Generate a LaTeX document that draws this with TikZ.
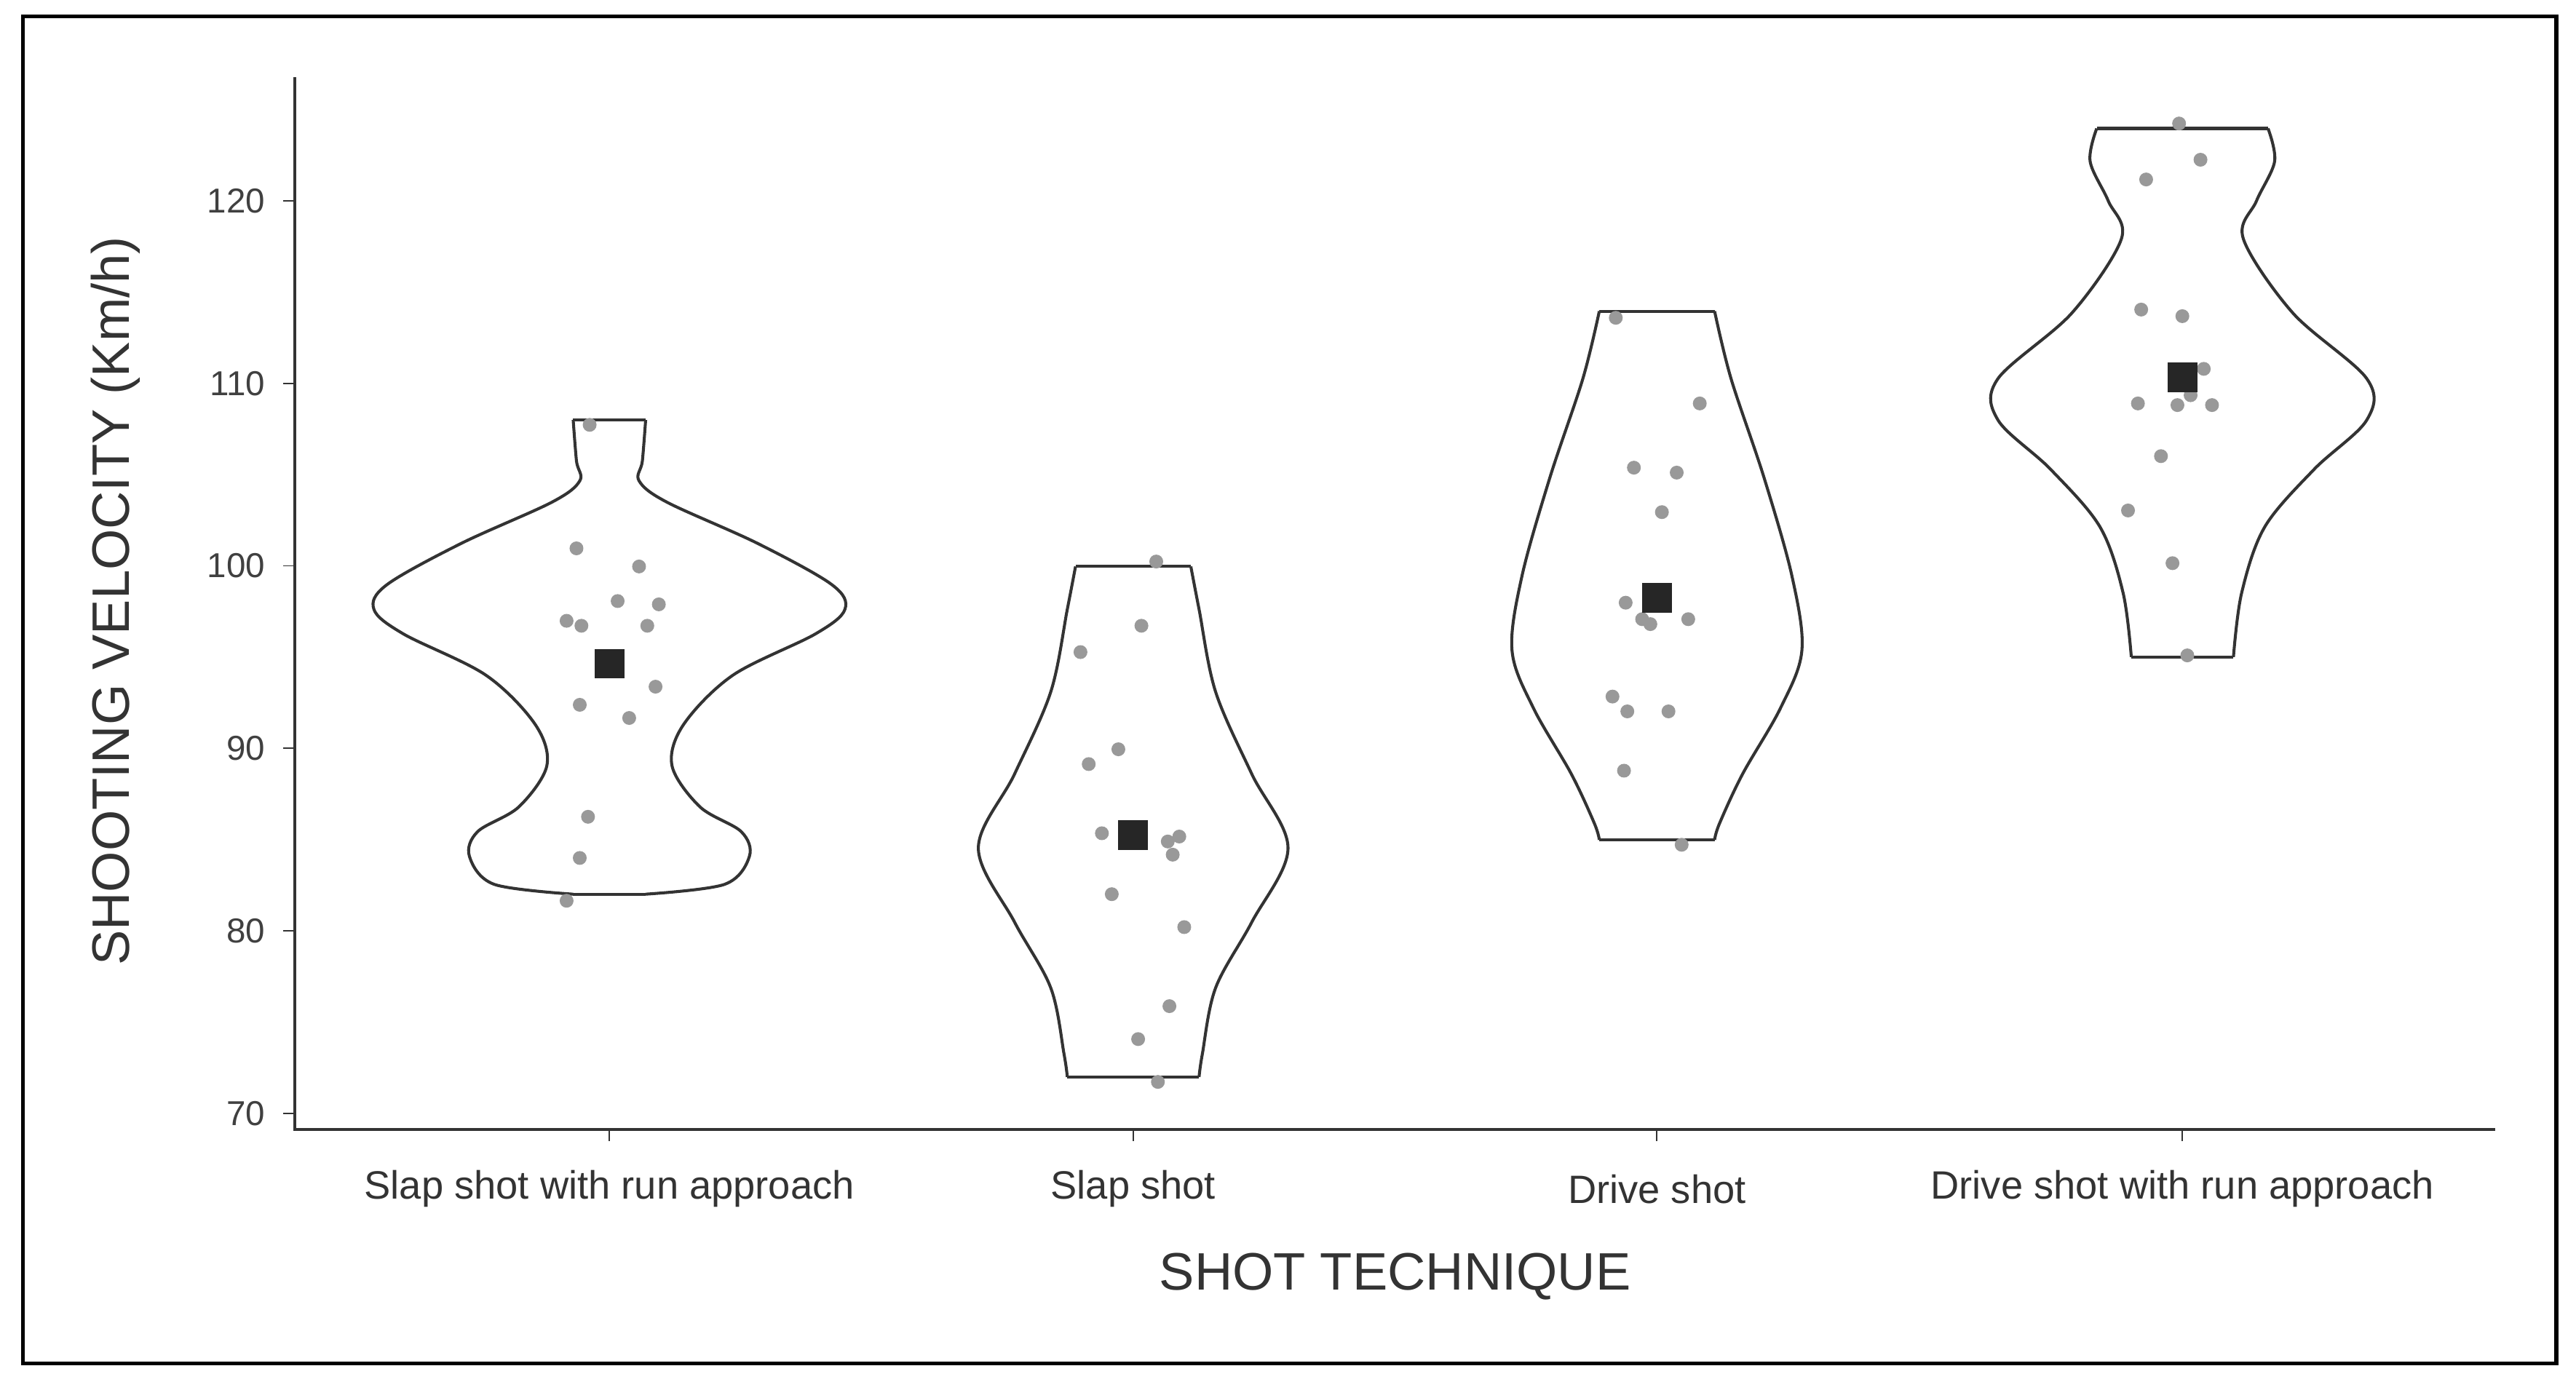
\documentclass[tikz,border=0pt]{standalone}
\usepackage{fontspec}
\setmainfont{Liberation Sans}
\begin{document}
\begin{tikzpicture}[x=0.5pt,y=-0.5pt,
  vio/.style={draw=black!80,line width=0.9pt},
  dot/.style={fill=black!40,draw=none},
  meanbox/.style={fill=black!85,draw=none,minimum size=9pt,inner sep=0pt},
  tick/.style={font=\fontsize{10.5}{12}\selectfont,text=black!75},
  cat/.style={font=\fontsize{12}{14}\selectfont,text=black!80},
  ttl/.style={font=\fontsize{16}{18}\selectfont,text=black!80}]
\useasboundingbox (0,0) rectangle (1564,844);
\fill[white] (0,0) rectangle (1564,844);
\draw[line width=1.2pt] (14,10) rectangle (1552,828);
% axes
\draw[black!80,line width=0.8pt] (179,47) -- (179,686) -- (1515,686);
\foreach \v in {70,80,...,120}{
  \pgfmathsetmacro{\yy}{676-(\v-70)*11.08}
  \draw[black!80] (172,\yy) -- (179,\yy);
  \node[tick,anchor=east] at (168,\yy) {\v};
}
\foreach \xx/\lab in {370/Slap shot with run approach,688/Slap shot,1006/Drive shot,1325/Drive shot with run approach}{
  \draw[black!80] (\xx,686) -- (\xx,693);
  \node[cat] at (\xx,722) {\lab};
}
\node[ttl] (xt) at (847,775) {SHOT TECHNIQUE};
\node[ttl,rotate=90] (yt) at (70,365) {SHOOTING VELOCITY (Km/h)};
% violins
\newcommand{\myviolin}[2]{%
  \draw[vio] plot[smooth,tension=0.6] coordinates {#2};
}
% violin 1
\def\cx{370}
\draw[vio] plot[smooth,tension=0.55] coordinates {(392,255)(390,280)(388,292)(405,305)(460,330)(505,355)(513,370)(495,385)(445,410)(415,440)(408,465)(425,490)(450,505)(455,520)(440,537)(392,543)};
\draw[vio] plot[smooth,tension=0.55] coordinates {(348,255)(350,280)(352,292)(335,305)(280,330)(235,355)(227,370)(245,385)(295,410)(325,440)(332,465)(315,490)(290,505)(285,520)(300,537)(348,543)};
\draw[vio] (348,255) -- (392,255) (348,543) -- (392,543);
% violin 2
\draw[vio] plot[smooth,tension=0.55] coordinates {(723,344)(728,370)(738,420)(760,470)(782,515)(760,560)(738,600)(730,640)(728,654)};
\draw[vio] plot[smooth,tension=0.55] coordinates {(653,344)(648,370)(638,420)(616,470)(594,515)(616,560)(638,600)(646,640)(648,654)};
\draw[vio] (653,344) -- (723,344) (648,654) -- (728,654);
% violin 3
\draw[vio] plot[smooth,tension=0.55] coordinates {(1041,189)(1051,230)(1071,290)(1088,350)(1094,395)(1081,430)(1058,470)(1044,500)(1041,510)};
\draw[vio] plot[smooth,tension=0.55] coordinates {(971,189)(961,230)(941,290)(924,350)(918,395)(931,430)(954,470)(968,500)(971,510)};
\draw[vio] (971,189) -- (1041,189) (971,510) -- (1041,510);
% violin 4
\draw[vio] plot[smooth,tension=0.55] coordinates {(1377,78)(1381,98)(1370,122)(1362,145)(1392,190)(1437,230)(1437,255)(1405,285)(1375,320)(1361,360)(1356,399)};
\draw[vio] plot[smooth,tension=0.55] coordinates {(1273,78)(1269,98)(1280,122)(1288,145)(1258,190)(1213,230)(1213,255)(1245,285)(1275,320)(1289,360)(1294,399)};
\draw[vio] (1273,78) -- (1377,78) (1294,399) -- (1356,399);
% dots
\foreach \p in {(358,258),(350,333),(388,344),(344,377),(353,380),(375,365),(400,367),(393,380),(352,428),(398,417),(382,436),(357,496),(352,521),(344,547),
(702,341),(693,380),(656,396),(661,464),(679,455),(669,506),(709,511),(716,508),(712,519),(675,543),(719,563),(710,611),(691,631),(703,657),
(981,193),(1032,245),(992,284),(1018,287),(1009,311),(987,366),(997,376),(1002,379),(1025,376),(979,423),(988,432),(1013,432),(986,468),(1021,513),
(1323,75),(1336,97),(1303,109),(1300,188),(1325,192),(1298,245),(1322,246),(1338,224),(1330,240),(1343,246),(1312,277),(1292,310),(1319,342),(1328,398)}
  \fill[dot] \p circle (4.2);
% means
\node[meanbox] (m1) at (370,403) {};
\node[meanbox] (m2) at (688,507) {};
\node[meanbox] (m3) at (1006,363) {};
\node[meanbox] (m4) at (1325,229) {};
\end{tikzpicture}
\end{document}
